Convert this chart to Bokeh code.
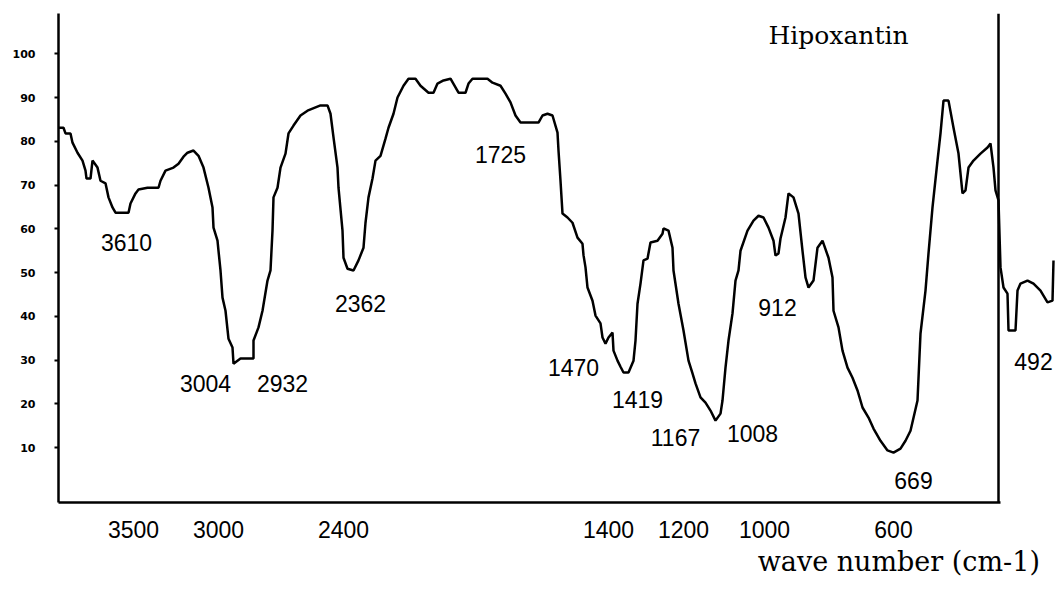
from bokeh.plotting import figure
from bokeh.models import Range1d, FixedTicker, Span, Title, Label, ColumnDataSource
from bokeh.core.properties import value
from bokeh.embed import file_html
from bokeh.resources import INLINE

# Chart position along the (non-linear) wave-number axis, and % transmittance
POSITION = [58, 63, 65, 70, 72, 77, 82, 85, 86, 90, 92, 97, 100, 105, 108, 112, 115, 128, 130, 135,
            138, 147, 158, 160, 165, 173, 178, 183, 187, 193, 198, 203, 208, 212, 213, 217, 218, 220,
            222, 225, 228, 232, 233, 240, 243, 253, 253, 258, 262, 267, 270, 272, 273, 277, 280, 285,
            288, 293, 300, 307, 320, 327, 330, 333, 337, 338, 342, 343, 347, 353, 358, 363, 365, 368,
            372, 375, 380, 385, 388, 393, 397, 403, 408, 415, 420, 428, 433, 437, 443, 450, 455, 458,
            465, 468, 472, 487, 492, 500, 505, 510, 515, 520, 538, 542, 547, 552, 557, 558, 560, 562,
            567, 572, 577, 582, 583, 585, 587, 592, 595, 600, 602, 605, 608, 612, 613, 617, 620, 623,
            628, 633, 635, 637, 640, 643, 647, 650, 657, 662, 663, 668, 672, 673, 678, 683, 688, 692,
            695, 700, 705, 710, 715, 720, 722, 725, 728, 732, 735, 738, 740, 747, 753, 758, 763, 768,
            773, 775, 778, 780, 785, 788, 793, 798, 802, 805, 808, 813, 817, 822, 828, 832, 833, 838,
            842, 847, 852, 857, 862, 868, 873, 880, 887, 893, 900, 905, 910, 917, 920, 925, 928, 932,
            937, 940, 943, 948, 953, 958, 962, 965, 968, 973, 980, 987, 990, 993, 995, 998, 1000, 1003,
            1007, 1008, 1015, 1017, 1020, 1027, 1033, 1040, 1047, 1052, 1053]
TRANSMITTANCE = [83.1, 83.1, 81.8, 81.8, 79.7, 77.4, 75.6, 73.3, 71.5, 71.5, 75.6, 74.0, 71.0, 70.4,
                 67.2, 64.9, 63.7, 63.7, 65.8, 68.1, 69.0, 69.4, 69.4, 71.0, 73.3, 74.0, 74.9, 76.5,
                 77.4, 77.9, 76.7, 74.0, 69.4, 64.9, 60.3, 57.3, 55.0, 50.5, 44.3, 41.3, 34.9, 32.9,
                 29.2, 30.4, 30.4, 30.4, 34.5, 37.5, 41.3, 48.2, 50.5, 59.6, 67.2, 69.4, 74.0, 77.2,
                 81.8, 83.6, 85.9, 87.0, 88.2, 88.2, 86.3, 80.9, 74.0, 69.4, 59.6, 53.4, 50.9, 50.5,
                 52.8, 55.7, 61.4, 67.2, 71.5, 75.6, 76.7, 80.6, 83.1, 86.3, 90.0, 92.7, 94.3, 94.3,
                 92.7, 91.1, 91.1, 93.2, 93.9, 94.3, 92.3, 91.1, 91.1, 93.2, 94.3, 94.3, 93.4, 92.7,
                 90.9, 88.9, 85.9, 84.3, 84.3, 85.9, 86.3, 85.9, 82.0, 77.9, 71.0, 63.5, 62.6, 61.4,
                 58.0, 56.6, 54.0, 51.2, 46.6, 43.6, 40.2, 38.4, 35.2, 33.8, 35.2, 36.3, 32.2, 29.9,
                 28.5, 27.2, 27.2, 29.9, 34.5, 42.9, 47.5, 52.8, 53.2, 56.9, 57.3, 58.9, 60.1, 59.6,
                 55.7, 50.5, 42.9, 36.8, 29.9, 27.0, 24.7, 21.5, 20.3, 18.5, 16.2, 17.8, 20.8, 28.3,
                 34.5, 40.7, 48.2, 50.5, 55.0, 59.6, 61.9, 63.0, 62.6, 60.3, 57.3, 53.9, 54.4, 57.8,
                 62.6, 68.1, 67.2, 63.5, 55.0, 48.9, 46.6, 48.2, 55.7, 57.3, 53.4, 48.9, 41.3, 37.5,
                 32.2, 28.3, 26.0, 23.1, 19.2, 16.9, 14.4, 11.6, 9.4, 8.9, 9.8, 11.6, 13.9, 20.8,
                 36.1, 45.9, 54.4, 64.9, 75.6, 81.8, 89.3, 89.3, 83.1, 77.2, 68.1, 68.8, 74.0, 75.6,
                 77.2, 78.6, 79.5, 74.0, 68.8, 66.5, 51.2, 46.6, 45.2, 36.8, 36.8, 45.9, 47.5, 48.2,
                 47.5, 45.9, 43.2, 43.6, 52.8]

# Peak annotations
PEAK_LABELS = ["3610", "3004", "2932", "2362", "1725", "1470", "1419", "1167", "1008", "912", "669", "492"]
PEAK_X = [126, 205, 282, 360, 500, 573, 637, 675, 752, 777, 913, 1033]
PEAK_Y = [56.9, 24.7, 24.7, 42.9, 77.0, 28.3, 21.0, 12.3, 13.2, 42.0, 2.5, 29.7]

# Axis ticks
X_TICK_POS = [133, 218, 343, 608, 683, 764, 893]
X_TICK_LABELS = ["3500", "3000", "2400", "1400", "1200", "1000", "600"]
Y_TICKS = [10, 20, 30, 40, 50, 60, 70, 80, 90, 100]
RIGHT_BORDER_POS = 998

p = figure(width=1055, height=585,
           x_range=Range1d(58, 1055), y_range=Range1d(-2.5, 109.2),
           output_backend="svg", toolbar_location=None,
           min_border_left=58, min_border_right=0, min_border_top=13, min_border_bottom=83)
p.outline_line_color = None
p.xgrid.visible = False
p.ygrid.visible = False
p.background_fill_color = "white"

src = ColumnDataSource(dict(x=POSITION, y=TRANSMITTANCE))
p.line("x", "y", source=src, line_color="black", line_width=2.5)

psrc = ColumnDataSource(dict(x=PEAK_X, y=PEAK_Y, t=PEAK_LABELS))
p.text("x", "y", text="t", source=psrc, text_align="center", text_baseline="middle",
       text_font=value("Liberation Sans"), text_font_size="23px", text_color="black")

p.add_layout(Span(location=RIGHT_BORDER_POS, dimension="height", line_color="black", line_width=2.5))

p.add_layout(Label(x=768, y=104.2, text="Hipoxantin", text_font="DejaVu Serif",
                   text_font_size="25px", text_baseline="middle", text_align="left",
                   text_color="black"))

# x axis
xa = p.xaxis[0]
xa.ticker = FixedTicker(ticks=X_TICK_POS)
xa.major_label_overrides = {t: l for t, l in zip(X_TICK_POS, X_TICK_LABELS)}
xa.major_tick_out = 0
xa.major_tick_in = 0
xa.minor_tick_out = 0
xa.minor_tick_in = 0
xa.axis_line_width = 2.5
xa.axis_line_color = "black"
xa.bounds = (58, 1000)
xa.major_label_standoff = 18
xa.major_label_text_font = "Liberation Sans"
xa.major_label_text_font_size = "23px"
xa.major_label_text_color = "black"

# y axis
ya = p.yaxis[0]
ya.ticker = FixedTicker(ticks=Y_TICKS)
ya.major_tick_out = 4
ya.major_tick_in = 0
ya.minor_tick_out = 0
ya.minor_tick_in = 0
ya.major_tick_line_width = 2
ya.axis_line_width = 2.5
ya.axis_line_color = "black"
ya.major_label_standoff = 19
ya.major_label_text_font = "DejaVu Sans"
ya.major_label_text_font_style = "bold"
ya.major_label_text_font_size = "11px"
ya.major_label_text_color = "black"

p.add_layout(Title(text="wave number  (cm-1)", align="right", offset=7, standoff=6,
                   text_font="DejaVu Serif", text_font_size="27px", text_font_style="normal",
                   text_color="black"), "below")

open("out.html", "w").write(file_html(p, INLINE))
